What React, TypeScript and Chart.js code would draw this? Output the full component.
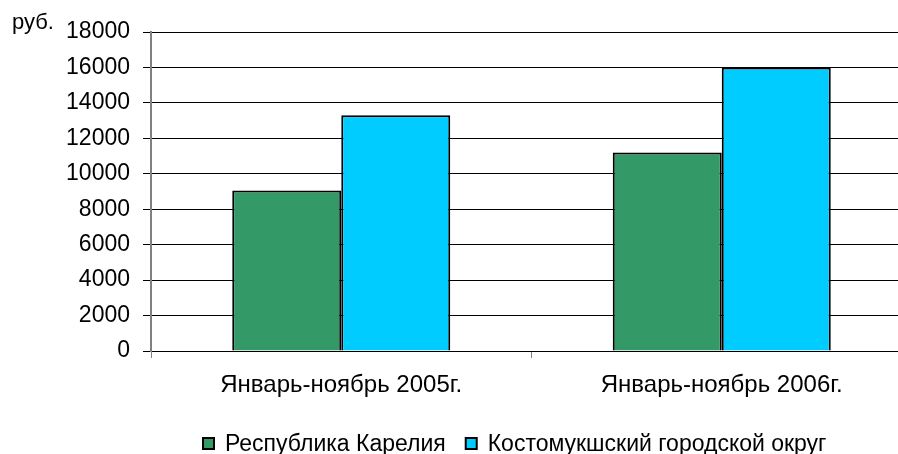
import React, { useEffect, useRef } from "react";
import { Chart, registerables } from "chart.js";

Chart.register(...registerables);

const categories = ["Январь-ноябрь 2005г.", "Январь-ноябрь 2006г."];
const seriesLabels = ["Республика Карелия", "Костомукшский городской округ"];
const kareliaValues = [9050, 11200];
const kostomukshaValues = [13300, 16000];
const seriesColors = ["#339966", "#00CCFF"];
const yMin = 0;
const yMax = 18000;
const yStep = 2000;
const unitLabel = "руб.";

const FONT = "'Liberation Sans', Arial, sans-serif";
const CANVAS_W = 912;
const CANVAS_H = 454;

const extrasPlugin = {
  id: "extras",
  afterDraw(chart: any) {
    const ctx = chart.ctx as CanvasRenderingContext2D;
    ctx.save();
    ctx.fillStyle = "#000";
    ctx.textBaseline = "alphabetic";
    ctx.textAlign = "left";
    ctx.font = `22px ${FONT}`;
    ctx.fillText(unitLabel, 12, 29);

    // legend
    ctx.font = `23px ${FONT}`;
    const box = 11;
    const gap = 11;
    const itemGap = 20;
    const items = chart.data.datasets.map((d: any) => ({
      label: d.label as string,
      color: d.backgroundColor as string,
    }));
    let x = 203;
    const baseline = 451;
    items.forEach((it: any) => {
      ctx.fillStyle = it.color;
      ctx.fillRect(x, baseline - 13, box, box);
      ctx.strokeStyle = "#000";
      ctx.lineWidth = 2;
      ctx.strokeRect(x, baseline - 13, box, box);
      ctx.fillStyle = "#000";
      const tx = x + box + gap;
      ctx.fillText(it.label, tx, baseline);
      x = tx + ctx.measureText(it.label).width + itemGap;
    });
    ctx.restore();
  },
};

export default function App() {
  const ref = useRef<HTMLCanvasElement | null>(null);

  useEffect(() => {
    if (!ref.current) return;
    const chart = new Chart(ref.current, {
      type: "bar",
      data: {
        labels: categories,
        datasets: [
          {
            label: seriesLabels[0],
            data: kareliaValues,
            backgroundColor: seriesColors[0],
            borderColor: "#000",
            borderWidth: 2,
            categoryPercentage: 0.573,
            barPercentage: 1,
          },
          {
            label: seriesLabels[1],
            data: kostomukshaValues,
            backgroundColor: seriesColors[1],
            borderColor: "#000",
            borderWidth: 2,
            categoryPercentage: 0.573,
            barPercentage: 1,
          },
        ],
      },
      options: {
        responsive: false,
        animation: false,
        devicePixelRatio: 1,
        layout: { padding: { top: 32, left: 0, right: 0, bottom: 0 } },
        plugins: {
          legend: { display: false },
          tooltip: { enabled: false },
        },
        scales: {
          x: {
            offset: true,
            grid: {
              display: true,
              drawOnChartArea: false,
              drawTicks: true,
              tickLength: 7,
              color: "#808080",
            },
            border: { display: true, color: "#000", width: 1 },
            ticks: {
              color: "#000",
              padding: 13,
              font: { family: FONT, size: 24 },
              maxRotation: 0,
            },
            afterFit: (scale: any) => {
              scale.height = 103;
            },
          },
          y: {
            min: yMin,
            max: yMax,
            ticks: {
              stepSize: yStep,
              color: "#000",
              padding: 13,
              font: { family: FONT, size: 23 },
              callback: (value: any) => String(value),
            },
            grid: {
              color: "#000",
              lineWidth: 1,
              tickLength: 8,
              drawTicks: true,
            },
            border: { display: true, color: "#808080", width: 2 },
            afterFit: (scale: any) => {
              scale.width = 151;
            },
          },
        },
      },
      plugins: [extrasPlugin],
    });
    return () => chart.destroy();
  }, []);

  return (
    <div
      style={{
        position: "fixed",
        left: 0,
        top: 0,
        width: 898,
        height: 454,
        overflow: "hidden",
        background: "#fff",
      }}
    >
      <canvas ref={ref} width={CANVAS_W} height={CANVAS_H} style={{ width: CANVAS_W, height: CANVAS_H, display: "block" }} />
    </div>
  );
}
